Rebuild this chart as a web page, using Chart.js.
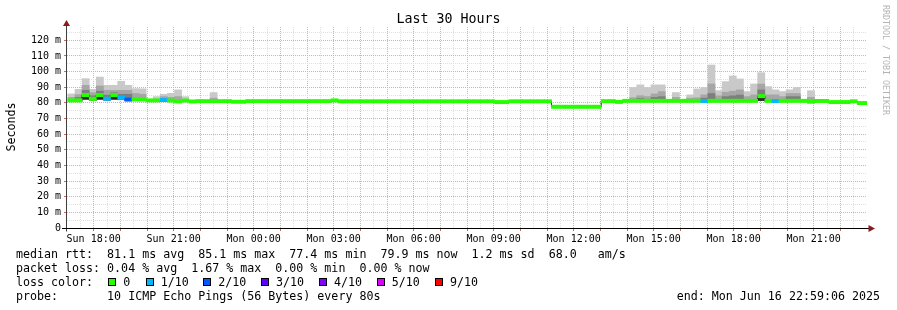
<!DOCTYPE html>
<html>
<head>
<meta charset="utf-8">
<title>Last 30 Hours</title>
<script src="https://cdn.jsdelivr.net/npm/chart.js@4.4.1/dist/chart.umd.min.js"></script>
<style>
  html, body { margin:0; padding:0; background:#ffffff; }
  #wrap { position:relative; width:897px; height:310px; overflow:hidden; background:#fff;
          font-family:'DejaVu Sans Mono', monospace; color:#000; }
  #chart { position:absolute; left:0; top:0; }
  .txt { position:absolute; white-space:pre; font-size:11.65px; line-height:14px; }
  #title { position:absolute; left:0; width:897px; top:11px; text-align:center; font-size:13.3px; line-height:16px; white-space:pre; }
  #ylab { position:absolute; left:-19px; top:120px; width:60px; text-align:center; font-size:11.65px; line-height:14px; transform:rotate(-90deg); white-space:pre; }
  #wm { position:absolute; left:881px; top:5px; writing-mode:vertical-rl; font-size:8.3px; line-height:10px; color:#b4b4b4; white-space:pre; }
  .box { position:absolute; width:6px; height:6px; border:1px solid #000; }
</style>
</head>
<body>
<div id="wrap">
  <canvas id="chart" width="897" height="310"></canvas>
  <div id="title">Last 30 Hours</div>
  <div id="ylab">Seconds</div>
  <div id="wm">RRDTOOL / TOBI OETIKER</div>
</div>
<script>
// ---------------- DATA ----------------
const _ = null;
// x tick labels (hours after Sun 17:00)
const tickHours  = [1, 4, 7, 10, 13, 16, 19, 22, 25, 28];
const tickLabels = ['Sun 18:00','Sun 21:00','Mon 00:00','Mon 03:00','Mon 06:00','Mon 09:00','Mon 12:00','Mon 15:00','Mon 18:00','Mon 21:00'];
const yTickLabels = ['0','10 m','20 m','30 m','40 m','50 m','60 m','70 m','80 m','90 m','100 m','110 m','120 m'];

// 16-minute buckets, first bucket centred at 17:10 Sun
const bucketMinutes = 16;
const firstBucketCenterMin = 10;

// median rtt per bucket (ms)
const median = [
  81.6, 81.6, 85.0, 82.6, 85.0, 82.7, 85.0, 83.4, 82.1, 82.2,
  82.2, 81.6, 81.6, 81.8, 81.5, 80.9, 81.5, 80.9, 81.1, 81.1,
  81.1, 81.1, 81.1, 80.7, 80.7, 81.1, 81.1, 81.1, 81.1, 81.1,
  81.1, 81.1, 81.1, 81.1, 81.1, 81.1, 81.1, 81.6, 81.0, 81.0,
  81.0, 81.0, 81.0, 81.0, 81.0, 81.0, 81.0, 81.0, 81.0, 81.0,
  81.0, 81.0, 81.0, 81.0, 81.0, 81.0, 81.0, 81.0, 81.0, 81.0,
  80.5, 80.5, 81.0, 81.0, 81.0, 81.0, 81.0, 81.0, 77.5, 77.5,
  77.5, 77.5, 77.5, 77.5, 77.5, 81.1, 81.1, 80.6, 81.3, 81.3,
  81.3, 81.3, 81.3, 81.3, 81.3, 81.3, 81.3, 81.3, 81.3, 81.2,
  81.3, 81.3, 81.3, 81.3, 81.3, 81.3, 81.3, 84.3, 81.3, 81.2,
  81.3, 81.3, 81.3, 81.3, 80.7, 81.2, 81.2, 80.5, 80.5, 80.5,
  81.0, 79.9, 79.9
];
// loss class per bucket (index into lossColors)
const loss = [
  0,0,0,0,0,1,0,1,2,0,
  0,0,0,1,0,0,0,0,0,0,
  0,0,0,0,0,0,0,0,0,0,
  0,0,0,0,0,0,0,0,0,0,
  0,0,0,0,0,0,0,0,0,0,
  0,0,0,0,0,0,0,0,0,0,
  0,0,0,0,0,0,0,0,0,0,
  0,0,0,0,0,0,0,0,0,0,
  0,0,0,0,0,0,0,0,0,1,
  0,0,0,0,0,0,0,0,0,1,
  0,0,0,0,0,0,0,0,0,0,
  0,0,0
];
// smoke: lowest ping, light top, mid top, dark top, core top (ms)
const smokeMin = [
  81.0, 81.0, 82.3, 81.5, 82.3, 81.5, 82.3, 82.0, 81.5, 81.5,
  81.5, _, 81.0, 81.0, 81.0, 80.5, 81.0, _, _, _,
  80.8, _, _, _, _, _, _, _, _, _,
  _, _, _, _, _, _, _, _, _, _,
  _, _, _, _, _, _, _, _, _, _,
  _, _, _, _, _, _, _, _, _, _,
  _, _, _, _, _, _, _, _, _, _,
  _, _, _, _, _, _, _, _, _, 80.8,
  80.8, 80.8, 80.8, 80.8, _, 80.8, _, 80.8, 80.8, 80.8,
  80.8, 80.8, 80.8, 80.8, 80.8, 80.8, 80.8, 81.5, 80.8, 80.8,
  80.8, 80.8, 80.8, _, 80.5, _, _, _, _, _,
  _, _, _
];
const smokeMax = [
  85.7, 88.7, 95.5, 88.7, 96.5, 91.2, 91.2, 93.8, 91.2, 89.1,
  89.0, _, 84.0, 85.5, 86.1, 88.3, 84.0, _, _, _,
  86.6, _, _, _, _, _, _, _, _, _,
  _, _, _, _, _, _, _, _, _, _,
  _, _, _, _, _, _, _, _, _, _,
  _, _, _, _, _, _, _, _, _, _,
  _, _, _, _, _, _, _, _, _, _,
  _, _, _, _, _, _, _, _, _, 89.8,
  91.5, 89.8, 91.5, 91.5, _, 86.6, _, 85.1, 88.9, 89.8,
  104.2, 87.8, 93.6, 97.2, 95.3, 87.2, 92.1, 99.3, 90.4, 88.3,
  87.2, 88.3, 89.8, _, 87.8, _, _, _, _, _,
  _, _, _
];
const smokeMid = [
  83.5, 85.3, 91.2, 86.5, 90.8, 88.0, 88.0, 88.0, 88.0, 86.0,
  85.5, _, _, 84.0, 83.5, 84.0, _, _, _, _,
  83.0, _, _, _, _, _, _, _, _, _,
  _, _, _, _, _, _, _, _, _, _,
  _, _, _, _, _, _, _, _, _, _,
  _, _, _, _, _, _, _, _, _, _,
  _, _, _, _, _, _, _, _, _, _,
  _, _, _, _, _, _, _, _, _, 83.3,
  84.6, 84.0, 85.7, 87.2, _, 83.5, _, 83.0, 83.3, 85.1,
  92.1, 84.5, 86.8, 87.5, 88.3, 84.0, 85.1, 92.0, 85.1, 85.1,
  84.0, 86.0, 86.0, _, 83.5, _, _, _, _, _,
  _, _, _
];
const smokeDark = [
  _, 83.5, 88.0, 84.5, 87.5, 84.9, 86.5, 85.5, 85.5, _,
  _, _, _, _, _, _, _, _, _, _,
  _, _, _, _, _, _, _, _, _, _,
  _, _, _, _, _, _, _, _, _, _,
  _, _, _, _, _, _, _, _, _, _,
  _, _, _, _, _, _, _, _, _, _,
  _, _, _, _, _, _, _, _, _, _,
  _, _, _, _, _, _, _, _, _, _,
  82.8, _, 83.5, 84.0, _, _, _, _, _, 83.0,
  86.0, _, 84.0, 84.5, 85.0, _, _, 88.3, _, _,
  _, 84.0, 84.0, _, _, _, _, _, _, _,
  _, _, _
];
const smokeCore = [
  _, _, 84.5, _, 84.5, _, 84.5, _, _, _,
  _, _, _, _, _, _, _, _, _, _,
  _, _, _, _, _, _, _, _, _, _,
  _, _, _, _, _, _, _, _, _, _,
  _, _, _, _, _, _, _, _, _, _,
  _, _, _, _, _, _, _, _, _, _,
  _, _, _, _, _, _, _, _, _, _,
  _, _, _, _, _, _, _, _, _, _,
  _, _, _, _, _, _, _, _, _, _,
  _, _, _, _, _, _, _, 84.0, _, _,
  _, _, _, _, _, _, _, _, _, _,
  _, _, _
];

const lossLabels = ['0','1/10','2/10','3/10','4/10','5/10','9/10'];
const lossColors = ['#26ff00','#00b8ff','#0059ff','#5e00ff','#7e00ff','#dd00ff','#ff0000'];

const rttStats  = ['81.1 ms avg','85.1 ms max','77.4 ms min','79.9 ms now','1.2 ms sd','68.0   am/s'];
const lossStats = ['0.04 % avg','1.67 % max','0.00 % min','0.00 % now'];
const probeText = '10 ICMP Echo Pings (56 Bytes) every 80s';
const endText   = 'end: Mon Jun 16 22:59:06 2025';

// ---------------- STYLE ----------------
const RED_GRID = '#f3a3a3';
const GREY_GRID = '#e0e0e0';
const MEDIAN_HALF = 1.05;   // half thickness of loss-coloured median band (ms)
const FONT = "'DejaVu Sans Mono', monospace";

const bucketX = median.map((v, j) => (firstBucketCenterMin + bucketMinutes * j) / 60);

function band(lo, hi) {
  return median.map((v, j) => ({ x: bucketX[j], y: (lo[j] == null || hi[j] == null) ? null : [lo[j], hi[j]] }));
}

const datasets = [
  { label:'smoke light', data: band(smokeMin, smokeMax), backgroundColor:'#c9c9c9', order:10 },
  { label:'smoke mid',   data: band(smokeMin, smokeMid), backgroundColor:'#a6a6a6', order:9 },
  { label:'smoke dark',  data: band(smokeMin, smokeDark), backgroundColor:'#7e7e7e', order:8 },
  { label:'smoke core',  data: band(smokeMin, smokeCore), backgroundColor:'#2a2a2a', order:7 },
  { type:'line', label:'median line', data: median.map((v, j) => ({ x: bucketX[j], y: v })),
    stepped:'middle', borderColor:'#202020', borderWidth:1, pointRadius:0, fill:false, order:6 },
  { label:'median', data: median.map((v, j) => ({ x: bucketX[j], y: [v - MEDIAN_HALF, v + MEDIAN_HALF] })),
    backgroundColor: loss.map(l => lossColors[l]), order:5 }
];

const isInt = v => Math.abs(v - Math.round(v)) < 1e-6;

const axesPlugin = {
  id: 'rrdAxes',
  afterDatasetsDraw(chart) {
    const { ctx, chartArea: a } = chart;
    const x0 = Math.round(a.left) - 0.5;
    const y0 = Math.round(a.bottom) + 0.5;
    ctx.save();
    ctx.lineWidth = 1;
    // y axis
    ctx.strokeStyle = '#404040';
    ctx.beginPath(); ctx.moveTo(x0, y0 + 3); ctx.lineTo(x0, a.top - 4); ctx.stroke();
    // x axis
    ctx.strokeStyle = '#000000';
    ctx.beginPath(); ctx.moveTo(a.left - 5, y0); ctx.lineTo(a.right + 3, y0); ctx.stroke();
    // arrows
    ctx.fillStyle = '#8b1a1a';
    ctx.beginPath(); ctx.moveTo(x0, a.top - 7); ctx.lineTo(x0 - 3.5, a.top - 1); ctx.lineTo(x0 + 3.5, a.top - 1); ctx.closePath(); ctx.fill();
    ctx.beginPath(); ctx.moveTo(a.right + 8, y0); ctx.lineTo(a.right + 1.5, y0 - 3.5); ctx.lineTo(a.right + 1.5, y0 + 3.5); ctx.closePath(); ctx.fill();
    ctx.restore();
  }
};

new Chart(document.getElementById('chart'), {
  type: 'bar',
  data: { datasets },
  options: {
    responsive: false,
    animation: false,
    devicePixelRatio: 1,
    layout: { padding: { left: 0, right: 30, top: 27, bottom: 0 } },
    plugins: { legend: { display: false }, tooltip: { enabled: false }, title: { display: false } },
    datasets: { bar: { grouped: false, barPercentage: 1, categoryPercentage: 1, borderWidth: 0 } },
    scales: {
      x: {
        type: 'linear', min: 0, max: 30, offset: false,
        afterFit(s) { s.height = 82; },
        ticks: {
          stepSize: 0.5, includeBounds: false, autoSkip: false, maxRotation: 0, minRotation: 0,
          padding: 2, color: '#000', font: { family: FONT, size: 10 },
          callback(v) {
            const i = tickHours.findIndex(h => Math.abs(h - v) < 1e-6);
            return i >= 0 ? tickLabels[i] : '';
          }
        },
        grid: {
          offset: false, lineWidth: 1, drawTicks: true, tickLength: 3,
          color: c => {
            const v = c.tick ? c.tick.value : 0;
            if (v <= 0 || v >= 30) return 'rgba(0,0,0,0)';
            return isInt(v) ? RED_GRID : GREY_GRID;
          },
          tickColor: c => {
            const v = c.tick ? c.tick.value : 0;
            return (isInt(v) && v > 0 && v < 30) ? '#e06060' : 'rgba(0,0,0,0)';
          }
        },
        border: { display: false, dash: [1, 1] }
      },
      y: {
        type: 'linear', min: 0, max: 128.5,
        afterFit(s) { s.width = 67; },
        ticks: {
          stepSize: 5, includeBounds: false, autoSkip: false, padding: 3,
          color: '#000', font: { family: FONT, size: 10 },
          callback(v) { return (v % 10 === 0) ? yTickLabels[v / 10] : ''; }
        },
        grid: {
          lineWidth: 1, drawTicks: true, tickLength: 3,
          color: c => {
            const v = c.tick ? c.tick.value : 0;
            if (v === 0) return 'rgba(0,0,0,0)';
            return (v % 10 === 0) ? RED_GRID : GREY_GRID;
          },
          tickColor: c => {
            const v = c.tick ? c.tick.value : 0;
            return (v % 10 === 0 && v > 0) ? '#e06060' : 'rgba(0,0,0,0)';
          }
        },
        border: { display: false, dash: [1, 1] }
      }
    }
  },
  plugins: [axesPlugin]
});

// ---------------- LEGEND (HTML text) ----------------
const wrap = document.getElementById('wrap');
function addText(str, left, top, extra) {
  const d = document.createElement('div');
  d.className = 'txt';
  d.textContent = str;
  d.style.left = left + 'px';
  d.style.top = top + 'px';
  if (extra) Object.assign(d.style, extra);
  wrap.appendChild(d);
  return d;
}
addText('median rtt:  ' + rttStats.join('  '), 16, 247.3);
addText('packet loss: ' + lossStats.join('  '), 16, 261);
addText('loss color:', 16, 275);
addText('probe:       ' + probeText, 16, 288.5);
addText(endText, 0, 288.5, { left: 'auto', right: '17px' });

const boxLeft = [108.3, 145.7, 203.3, 261, 319, 376.7, 435];
lossLabels.forEach((lab, i) => {
  const b = document.createElement('div');
  b.className = 'box';
  b.style.left = boxLeft[i] + 'px';
  b.style.top = '278.3px';
  b.style.background = lossColors[i];
  wrap.appendChild(b);
  addText(lab, boxLeft[i] + 15, 275);
});
</script>
</body>
</html>
